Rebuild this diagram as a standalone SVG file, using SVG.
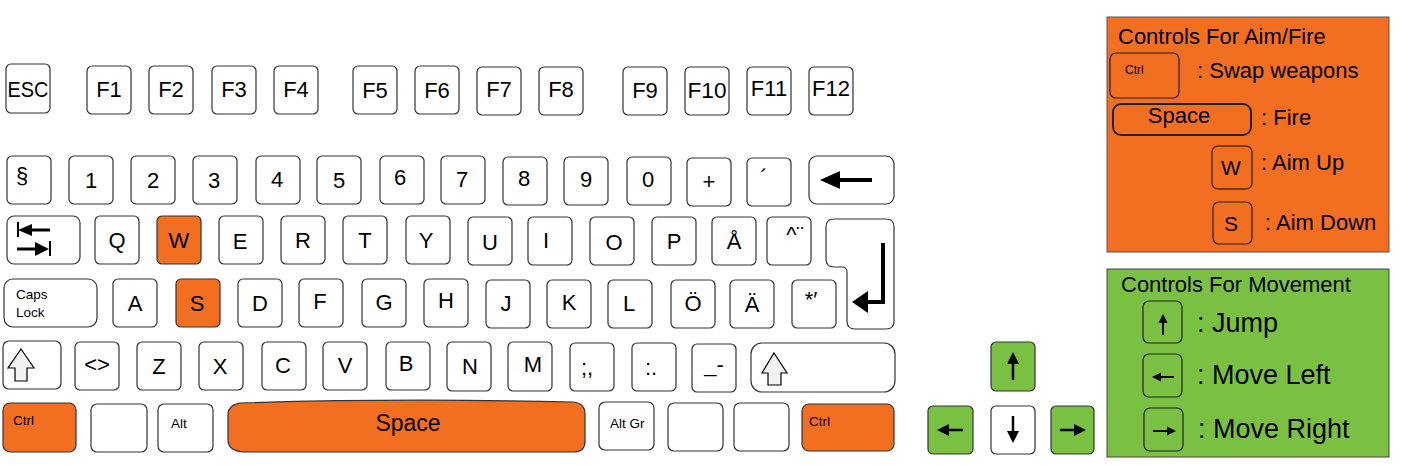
<svg xmlns="http://www.w3.org/2000/svg" width="1412" height="466" viewBox="0 0 1412 466">
<style>
.k{fill:#fff;stroke:#333;stroke-width:1.2}
.o{fill:#F26F21;stroke:#333;stroke-width:1.2}
.g{fill:#7AC143;stroke:#333;stroke-width:1.2}
.lk{fill:none;stroke:#222;stroke-width:1.2}
.t{font-family:"Liberation Sans",Arial,sans-serif;font-size:22px;text-anchor:middle;fill:#000}
.sm{font-family:"Liberation Sans",Arial,sans-serif;font-size:13.5px;fill:#000}
.lg{font-family:"Liberation Sans",Arial,sans-serif;font-size:22px;fill:#000}
.lb{font-family:"Liberation Sans",Arial,sans-serif;font-size:27px;fill:#000}
.ar{stroke:#000;stroke-width:4;fill:none}
.th{stroke:#000;stroke-width:2.5;fill:none}
.sh{fill:#f2f2f2;stroke:#000;stroke-width:1.2}
</style>
<rect width="1412" height="466" fill="#fff"/>

<!-- Function row -->
<g id="key-esc"><rect class="k" x="6" y="64" width="44" height="49" rx="5"/><text class="t" x="28" y="97" textLength="41" lengthAdjust="spacingAndGlyphs">ESC</text></g>
<g id="key-f1"><rect class="k" x="87" y="66" width="44" height="48" rx="5"/><text class="t" x="109" y="97">F1</text></g>
<g id="key-f2"><rect class="k" x="149" y="66" width="44" height="48" rx="5"/><text class="t" x="171" y="97">F2</text></g>
<g id="key-f3"><rect class="k" x="212" y="66" width="44" height="48" rx="5"/><text class="t" x="234" y="97">F3</text></g>
<g id="key-f4"><rect class="k" x="274" y="66" width="44" height="48" rx="5"/><text class="t" x="296" y="97">F4</text></g>
<g id="key-f5"><rect class="k" x="353" y="66" width="44" height="48" rx="5"/><text class="t" x="375" y="98">F5</text></g>
<g id="key-f6"><rect class="k" x="415" y="66" width="44" height="48" rx="5"/><text class="t" x="437" y="98">F6</text></g>
<g id="key-f7"><rect class="k" x="477" y="67" width="44" height="48" rx="5"/><text class="t" x="499" y="97">F7</text></g>
<g id="key-f8"><rect class="k" x="539" y="67" width="44" height="48" rx="5"/><text class="t" x="561" y="97">F8</text></g>
<g id="key-f9"><rect class="k" x="623" y="67" width="44" height="48" rx="5"/><text class="t" x="645" y="98">F9</text></g>
<g id="key-f10"><rect class="k" x="685" y="67" width="44" height="48" rx="5"/><text class="t" x="707" y="98" textLength="39" lengthAdjust="spacingAndGlyphs">F10</text></g>
<g id="key-f11"><rect class="k" x="747" y="67" width="44" height="48" rx="5"/><text class="t" x="769" y="96">F11</text></g>
<g id="key-f12"><rect class="k" x="809" y="67" width="44" height="48" rx="5"/><text class="t" x="831" y="96">F12</text></g>

<!-- Number row -->
<g id="key-section"><rect class="k" x="7" y="156" width="44" height="48" rx="5"/><text class="t" x="22" y="183">§</text></g>
<g id="key-1"><rect class="k" x="69" y="156" width="44" height="48" rx="5"/><text class="t" x="91" y="188">1</text></g>
<g id="key-2"><rect class="k" x="131" y="156" width="44" height="48" rx="5"/><text class="t" x="153" y="188">2</text></g>
<g id="key-3"><rect class="k" x="193" y="156" width="44" height="48" rx="5"/><text class="t" x="214" y="188">3</text></g>
<g id="key-4"><rect class="k" x="256" y="156" width="44" height="48" rx="5"/><text class="t" x="277" y="187">4</text></g>
<g id="key-5"><rect class="k" x="317" y="156" width="44" height="48" rx="5"/><text class="t" x="339" y="188">5</text></g>
<g id="key-6"><rect class="k" x="380" y="156" width="44" height="48" rx="5"/><text class="t" x="400" y="185">6</text></g>
<g id="key-7"><rect class="k" x="441" y="156" width="44" height="48" rx="5"/><text class="t" x="462" y="187">7</text></g>
<g id="key-8"><rect class="k" x="503" y="157" width="44" height="48" rx="5"/><text class="t" x="524" y="186">8</text></g>
<g id="key-9"><rect class="k" x="564" y="157" width="44" height="48" rx="5"/><text class="t" x="586" y="187">9</text></g>
<g id="key-0"><rect class="k" x="627" y="157" width="44" height="48" rx="5"/><text class="t" x="648" y="187">0</text></g>
<g id="key-plus"><rect class="k" x="687" y="158" width="44" height="48" rx="5"/><text class="t" x="709" y="189">+</text></g>
<g id="key-acute"><rect class="k" x="747" y="158" width="44" height="48" rx="5"/><text class="t" x="764" y="185">´</text></g>
<g id="key-backspace"><rect class="k" x="809" y="156" width="85" height="48" rx="8"/>
<line class="ar" x1="836" y1="180" x2="872" y2="180"/><polygon points="820,180 840,171 840,189" fill="#000"/></g>

<!-- Tab row -->
<g id="key-tab"><rect class="k" x="7" y="216" width="73" height="48" rx="7"/>
<line x1="18" y1="222" x2="18" y2="237" stroke="#000" stroke-width="2"/>
<line x1="29" y1="230" x2="50" y2="230" stroke="#000" stroke-width="3"/>
<polygon points="18,230 32,224 32,236" fill="#000"/>
<line x1="17" y1="249" x2="38" y2="249" stroke="#000" stroke-width="3"/>
<polygon points="49,249 35,242 35,256" fill="#000"/>
<line x1="50" y1="241" x2="50" y2="256" stroke="#000" stroke-width="2"/></g>
<g id="key-q"><rect class="k" x="95" y="216" width="44" height="48" rx="5"/><text class="t" x="117" y="248">Q</text></g>
<g id="key-w"><rect class="o" x="157" y="216" width="44" height="48" rx="5"/><text class="t" x="179" y="248">W</text></g>
<g id="key-e"><rect class="k" x="219" y="216" width="44" height="48" rx="5"/><text class="t" x="240" y="249">E</text></g>
<g id="key-r"><rect class="k" x="281" y="216" width="44" height="48" rx="5"/><text class="t" x="303" y="248">R</text></g>
<g id="key-t"><rect class="k" x="343" y="216" width="44" height="48" rx="5"/><text class="t" x="365" y="248">T</text></g>
<g id="key-y"><rect class="k" x="406" y="216" width="44" height="48" rx="5"/><text class="t" x="426" y="248">Y</text></g>
<g id="key-u"><rect class="k" x="468" y="217" width="44" height="48" rx="5"/><text class="t" x="490" y="250">U</text></g>
<g id="key-i"><rect class="k" x="528" y="217" width="44" height="48" rx="5"/><text class="t" x="546" y="248">I</text></g>
<g id="key-o"><rect class="k" x="590" y="217" width="44" height="48" rx="5"/><text class="t" x="614" y="250">O</text></g>
<g id="key-p"><rect class="k" x="652" y="217" width="44" height="48" rx="5"/><text class="t" x="674" y="249">P</text></g>
<g id="key-aring"><rect class="k" x="712" y="217" width="44" height="48" rx="5"/><text class="t" x="734" y="249">Å</text></g>
<g id="key-caret"><rect class="k" x="767" y="217" width="44" height="48" rx="5"/><text class="t" x="795" y="242">^¨</text></g>
<g id="key-enter"><path class="k" d="M834,219 L886,219 Q894,219 894,227 L894,321 Q894,329 886,329 L855,329 Q847,329 847,321 L847,272 Q847,267 842,267 L834,267 Q826,267 826,259 L826,227 Q826,219 834,219 Z"/>
<polyline class="ar" points="883,243 883,302 864,302"/><polygon points="852,302 868,291 868,313" fill="#000"/></g>

<!-- Home row -->
<g id="key-caps"><rect class="k" x="4" y="279" width="93" height="48" rx="9"/><text class="sm" x="16" y="299">Caps</text><text class="sm" x="16" y="317">Lock</text></g>
<g id="key-a"><rect class="k" x="113" y="279" width="44" height="48" rx="5"/><text class="t" x="135" y="311">A</text></g>
<g id="key-s"><rect class="o" x="176" y="279" width="44" height="48" rx="5"/><text class="t" x="197" y="311">S</text></g>
<g id="key-d"><rect class="k" x="238" y="279" width="44" height="48" rx="5"/><text class="t" x="260" y="311">D</text></g>
<g id="key-f"><rect class="k" x="299" y="279" width="44" height="48" rx="5"/><text class="t" x="320" y="309">F</text></g>
<g id="key-g"><rect class="k" x="362" y="279" width="44" height="48" rx="5"/><text class="t" x="384" y="310">G</text></g>
<g id="key-h"><rect class="k" x="424" y="279" width="44" height="48" rx="5"/><text class="t" x="446" y="308">H</text></g>
<g id="key-j"><rect class="k" x="486" y="280" width="44" height="48" rx="5"/><text class="t" x="506" y="311">J</text></g>
<g id="key-k"><rect class="k" x="547" y="280" width="44" height="48" rx="5"/><text class="t" x="569" y="310">K</text></g>
<g id="key-l"><rect class="k" x="608" y="280" width="44" height="48" rx="5"/><text class="t" x="629" y="311">L</text></g>
<g id="key-ouml"><rect class="k" x="671" y="280" width="44" height="48" rx="5"/><text class="t" x="693" y="311">Ö</text></g>
<g id="key-auml"><rect class="k" x="730" y="280" width="44" height="48" rx="5"/><text class="t" x="752" y="312">Ä</text></g>
<g id="key-star"><rect class="k" x="792" y="280" width="44" height="48" rx="5"/><text class="t" x="811" y="307">*′</text></g>

<!-- Shift row -->
<g id="key-lshift"><rect class="k" x="3" y="341" width="58" height="48" rx="6"/>
<polygon class="sh" points="21,349 34,368 27,368 27,381 15,381 15,368 8,368"/></g>
<g id="key-angle"><rect class="k" x="75" y="342" width="44" height="48" rx="5"/><text class="t" x="97" y="372">&lt;&gt;</text></g>
<g id="key-z"><rect class="k" x="137" y="342" width="44" height="48" rx="5"/><text class="t" x="159" y="374">Z</text></g>
<g id="key-x"><rect class="k" x="199" y="342" width="44" height="48" rx="5"/><text class="t" x="220" y="374">X</text></g>
<g id="key-c"><rect class="k" x="262" y="342" width="44" height="48" rx="5"/><text class="t" x="283" y="373">C</text></g>
<g id="key-v"><rect class="k" x="323" y="342" width="44" height="48" rx="5"/><text class="t" x="345" y="373">V</text></g>
<g id="key-b"><rect class="k" x="386" y="342" width="44" height="48" rx="5"/><text class="t" x="406" y="371">B</text></g>
<g id="key-n"><rect class="k" x="447" y="342" width="44" height="49" rx="5"/><text class="t" x="470" y="374">N</text></g>
<g id="key-m"><rect class="k" x="508" y="342" width="44" height="49" rx="5"/><text class="t" x="533" y="372">M</text></g>
<g id="key-semicolon"><rect class="k" x="570" y="343" width="44" height="48" rx="5"/><text class="t" x="587" y="375">;,</text></g>
<g id="key-colon"><rect class="k" x="632" y="343" width="44" height="48" rx="5"/><text class="t" x="651" y="375">:.</text></g>
<g id="key-underscore"><rect class="k" x="692" y="344" width="44" height="48" rx="5"/><text class="t" x="714" y="372">_-</text></g>
<g id="key-rshift"><rect class="k" x="751" y="343" width="144" height="49" rx="11"/>
<polygon class="sh" points="774,353 787,373 781,373 781,385 768,385 768,373 762,373"/></g>

<!-- Bottom row -->
<g id="key-lctrl"><rect class="o" x="3" y="403" width="73" height="49" rx="7"/><text class="sm" x="13" y="425">Ctrl</text></g>
<g id="key-blank1"><rect class="k" x="91" y="404" width="56" height="48" rx="6"/></g>
<g id="key-alt"><rect class="k" x="158" y="404" width="55" height="48" rx="6"/><text class="sm" x="171" y="428">Alt</text></g>
<g id="key-space"><path class="o" d="M240,403 Q400,398 573,402 Q585,403 585,414 L585,441 Q585,452 574,452 L244,452 Q228,451 228,440 L228,415 Q228,405 240,403 Z"/><text class="t" x="408" y="431" style="font-size:23px">Space</text></g>
<g id="key-altgr"><rect class="k" x="599" y="402" width="55" height="48" rx="6"/><text class="sm" x="610" y="428">Alt Gr</text></g>
<g id="key-blank2"><rect class="k" x="668" y="403" width="55" height="48" rx="6"/></g>
<g id="key-blank3"><rect class="k" x="734" y="403" width="55" height="48" rx="6"/></g>
<g id="key-rctrl"><rect class="o" x="802" y="404" width="92" height="47" rx="7"/><text class="sm" x="809" y="426">Ctrl</text></g>

<!-- Arrow keys -->
<g id="key-up"><rect class="g" x="991" y="342" width="44" height="49" rx="5"/>
<line class="th" x1="1013" y1="361" x2="1013" y2="380"/><polygon points="1013,352 1007,364 1019,364" fill="#000"/></g>
<g id="key-left"><rect class="g" x="928" y="406" width="45" height="48" rx="5"/>
<line class="th" x1="946" y1="430" x2="963" y2="430"/><polygon points="937,430 949,424 949,436" fill="#000"/></g>
<g id="key-down"><rect class="k" x="991" y="406" width="44" height="48" rx="5"/>
<line class="th" x1="1013" y1="416" x2="1013" y2="434"/><polygon points="1013,443 1007,431 1019,431" fill="#000"/></g>
<g id="key-right"><rect class="g" x="1051" y="406" width="43" height="48" rx="5"/>
<line class="th" x1="1060" y1="430" x2="1077" y2="430"/><polygon points="1086,430 1074,424 1074,436" fill="#000"/></g>

<!-- Legend: Aim/Fire -->
<g id="legend-aim">
<rect x="1107" y="17" width="282" height="235" fill="#F26F21" stroke="#555" stroke-width="1"/>
<text class="lg" x="1118" y="44">Controls For Aim/Fire</text>
<rect class="lk" x="1110" y="53" width="69" height="45" rx="6"/>
<text class="sm" x="1125" y="74" style="font-size:12px">Ctrl</text>
<text class="lg" x="1197" y="78">: Swap weapons</text>
<rect x="1113" y="104" width="138" height="31" rx="8" fill="none" stroke="#222" stroke-width="2"/>
<text class="lg" x="1179" y="123" text-anchor="middle">Space</text>
<text class="lg" x="1261" y="125">: Fire</text>
<rect x="1212" y="146" width="40" height="43" rx="6" fill="none" stroke="#5a2e12" stroke-width="1.5"/>
<text class="lg" x="1231" y="175" text-anchor="middle" style="font-size:21px">W</text>
<text class="lg" x="1261" y="170">: Aim Up</text>
<rect class="lk" x="1213" y="202" width="39" height="42" rx="6"/>
<text class="lg" x="1231" y="231" text-anchor="middle" style="font-size:21px">S</text>
<text class="lg" x="1265" y="230">: Aim Down</text>
</g>

<!-- Legend: Movement -->
<g id="legend-move">
<rect x="1107" y="269" width="282" height="188" fill="#7AC143" stroke="#444" stroke-width="1"/>
<text class="lg" x="1121" y="292">Controls For Movement</text>
<rect class="lk" x="1143" y="301" width="39" height="42" rx="6"/>
<line x1="1163" y1="321" x2="1163" y2="335" stroke="#000" stroke-width="2"/><polygon points="1163,314 1158.5,323 1167.5,323" fill="#000"/>
<text class="lb" x="1197" y="332">: Jump</text>
<rect class="lk" x="1143" y="354" width="39" height="43" rx="6"/>
<line x1="1158" y1="377" x2="1174" y2="377" stroke="#000" stroke-width="2"/><polygon points="1152,377 1161,372.5 1161,381.5" fill="#000"/>
<text class="lb" x="1197" y="384">: Move Left</text>
<rect class="lk" x="1144" y="408" width="39" height="43" rx="6"/>
<line x1="1153" y1="431" x2="1169" y2="431" stroke="#000" stroke-width="2"/><polygon points="1176,431 1167,426.5 1167,435.5" fill="#000"/>
<text class="lb" x="1198" y="438">: Move Right</text>
</g>
</svg>
